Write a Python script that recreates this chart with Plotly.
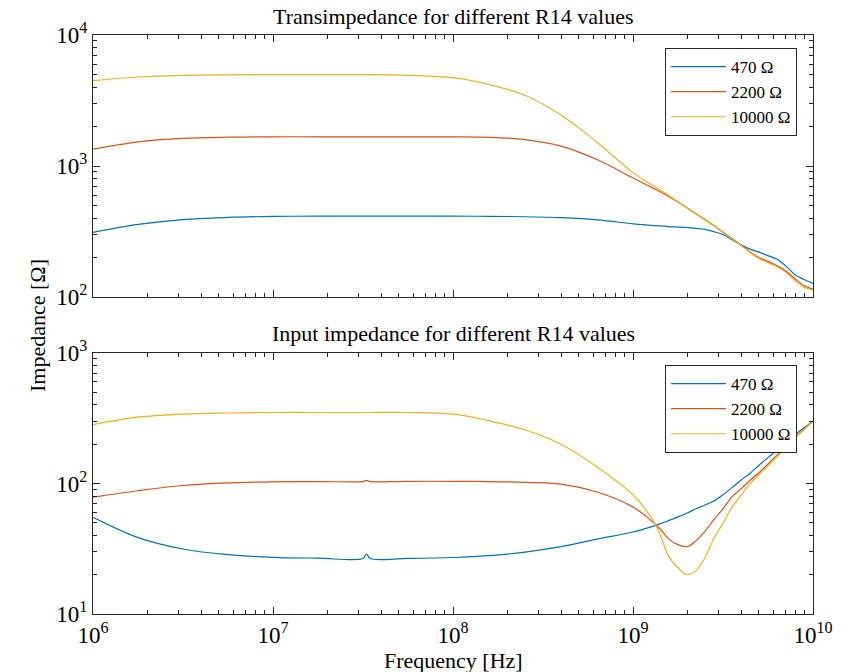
import plotly.graph_objects as go

# ---------------- data ----------------
series_names = ["470 Ω", "2200 Ω", "10000 Ω"]
colors = ["#0072BD", "#D95319", "#EDB120"]

# Transimpedance (top) — frequency grid [Hz]
ti_f = [1e6, 1.78e6, 3.16e6, 5.62e6, 1e7, 1.78e7, 3.16e7, 5.62e7, 1e8, 1.58e8, 2.51e8,
        3.98e8, 6.31e8, 1e9, 1.26e9, 1.58e9, 2.0e9, 2.51e9, 2.82e9, 3.16e9, 3.55e9,
        3.98e9, 4.47e9, 5.01e9, 5.62e9, 6.31e9, 7.08e9, 7.94e9, 8.91e9, 1e10]
ti_470 = [311, 358, 390, 405, 412, 414, 414, 414, 414, 413, 410,
          403, 388, 362, 352, 345, 339, 328, 315, 300, 274,
          250, 232, 220, 207, 194, 172, 148, 136, 127]
ti_2200 = [1343, 1530, 1625, 1660, 1671, 1671, 1671, 1671, 1668, 1655, 1590,
           1420, 1120, 810, 690, 585, 478, 390, 350, 312, 280,
           250, 221, 200, 187, 173, 158, 138, 122, 115]
ti_10000 = [4480, 4780, 4920, 4970, 4990, 4990, 4980, 4920, 4720, 4190, 3470,
            2450, 1520, 890, 725, 595, 476, 388, 348, 310, 278,
            248, 218, 196, 183, 170, 154, 134, 119, 113]

# Input impedance (bottom) — frequency grid [Hz]
zi_f = [1e6, 1.78e6, 3.16e6, 5.62e6, 1e7, 1.78e7, 3.16e7, 3.31e7, 3.47e7, 5.62e7, 1e8,
        1.58e8, 2.51e8, 3.98e8, 6.31e8, 1e9, 1.26e9, 1.41e9, 1.58e9, 1.78e9, 2.0e9,
        2.24e9, 2.51e9, 2.82e9, 3.16e9, 3.55e9, 3.98e9, 4.47e9, 5.01e9, 6.31e9, 7.94e9, 1e10]
zi_470 = [55, 38.5, 31.5, 28.5, 27.2, 26.8, 26.6, 28.8, 26.6, 26.7, 27.1,
          28.0, 29.8, 32.8, 37.5, 42.5, 46.5, 49, 52, 55.5, 59.5,
          64, 68.5, 73.5, 82, 93, 106, 120, 138, 180, 236, 300]
zi_2200 = [78.5, 88, 96.5, 101, 103, 103.5, 103.5, 105.5, 103.5, 104, 104,
           103.5, 102, 99, 86, 66, 52, 45, 37.5, 34, 32.8,
           36.5, 43, 53, 64, 79, 91, 106, 121, 165, 225, 300]
zi_10000 = [283, 322, 340, 347, 350, 350, 350, 350, 350, 350, 340,
            303, 258, 200, 134, 82, 55, 41, 27.5, 22.5, 20.0,
            21.5, 27, 38, 49.5, 66, 81, 100, 117, 160, 222, 300]

top_title = "Transimpedance for different R14 values"
bottom_title = "Input impedance for different R14 values"
x_title = "Frequency [Hz]"
y_title = "Impedance [Ω]"

x_tickvals = [1e6, 1e7, 1e8, 1e9, 1e10]
x_ticktext = ["10<sup>6</sup>", "10<sup>7</sup>", "10<sup>8</sup>", "10<sup>9</sup>", "10<sup>10</sup>"]
y1_tickvals = [1e2, 1e3, 1e4]
y1_ticktext = ["10<sup>2</sup>", "10<sup>3</sup>", "10<sup>4</sup>"]
y2_tickvals = [1e1, 1e2, 1e3]
y2_ticktext = ["10<sup>1</sup>", "10<sup>2</sup>", "10<sup>3</sup>"]

# ---------------- figure ----------------
FONT = "Liberation Serif, Times New Roman, Times, serif"
W, H = 844, 672
L, R, T, B = 93, 31, 35, 58
plot_h = H - T - B


def py(ypx):
    return (H - B - ypx) / plot_h


fig = go.Figure()

for i, z in enumerate([ti_470, ti_2200, ti_10000]):
    fig.add_trace(go.Scatter(x=ti_f, y=z, mode="lines", name=series_names[i],
                             line=dict(color=colors[i], width=1.2, shape="spline", smoothing=1.0),
                             xaxis="x", yaxis="y", legend="legend"))
for i, z in enumerate([zi_470, zi_2200, zi_10000]):
    fig.add_trace(go.Scatter(x=zi_f, y=z, mode="lines", name=series_names[i],
                             line=dict(color=colors[i], width=1.2, shape="spline", smoothing=1.0),
                             xaxis="x2", yaxis="y2", legend="legend2"))

axcol = "#262626"
common = dict(type="log", showline=True, linecolor=axcol, linewidth=1, mirror="allticks",
              ticks="inside", ticklen=7, tickcolor=axcol, tickwidth=1, showgrid=False,
              zeroline=False, tickmode="array",
              minor=dict(ticks="inside", ticklen=4, tickcolor=axcol, dtick="D1", showgrid=False),
              tickfont=dict(family=FONT, size=23, color="#000000"))

top_dom = [py(297), 1.0]
bot_dom = [0.0, py(353)]

leg = dict(xanchor="left", yanchor="top", bgcolor="white", bordercolor=axcol, borderwidth=1,
           font=dict(family=FONT, size=17), tracegroupgap=0, itemwidth=55)

fig.update_layout(
    width=W, height=H,
    margin=dict(l=L, r=R, t=T, b=B),
    paper_bgcolor="white", plot_bgcolor="white",
    font=dict(family=FONT, color="#000000"),
    xaxis=dict(common, range=[6, 10], anchor="y", domain=[0, 1], showticklabels=False,
               tickvals=x_tickvals, ticktext=x_ticktext),
    yaxis=dict(common, range=[2, 4], anchor="x", domain=top_dom,
               tickvals=y1_tickvals, ticktext=y1_ticktext),
    xaxis2=dict(common, range=[6, 10], anchor="y2", domain=[0, 1], matches="x",
                tickvals=x_tickvals, ticktext=x_ticktext),
    yaxis2=dict(common, range=[1, 3], anchor="x2", domain=bot_dom,
                tickvals=y2_tickvals, ticktext=y2_ticktext),
    legend=dict(leg, x=(665 - L) / 720, y=py(48)),
    legend2=dict(leg, x=(665 - L) / 720, y=py(365)),
    showlegend=True,
)

for txt, ypx in [(top_title, 17), (bottom_title, 333)]:
    fig.add_annotation(text=txt, x=0.5, y=py(ypx), xref="paper", yref="paper",
                       showarrow=False, xanchor="center", yanchor="middle",
                       font=dict(family=FONT, size=22))
fig.add_annotation(text=x_title, x=0.5, y=py(660), xref="paper", yref="paper",
                   showarrow=False, xanchor="center", yanchor="middle",
                   font=dict(family=FONT, size=22))
fig.add_annotation(text=y_title, x=(38 - L) / 720, y=py(325), xref="paper", yref="paper",
                   showarrow=False, xanchor="center", yanchor="middle", textangle=-90,
                   font=dict(family=FONT, size=22))

fig.write_html("out.html")
